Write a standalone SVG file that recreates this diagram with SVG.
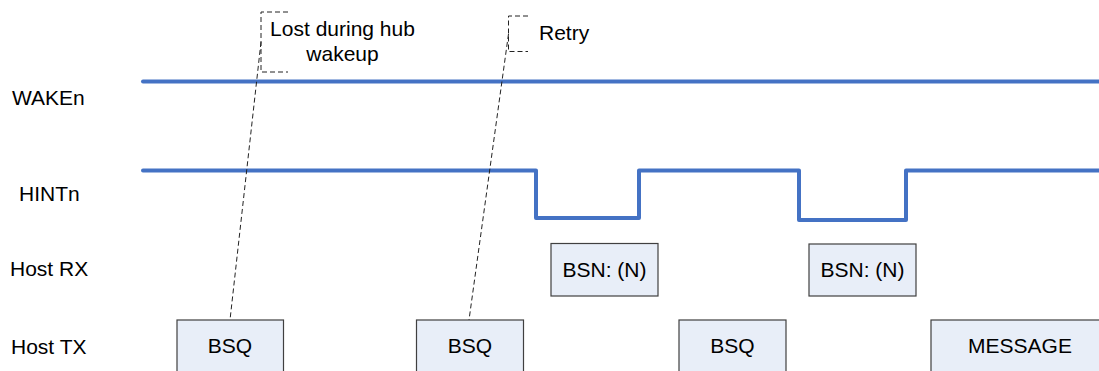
<svg xmlns="http://www.w3.org/2000/svg" width="1099" height="371" viewBox="0 0 1099 371">
<style>
text{font-family:"Liberation Sans",Arial,sans-serif;font-size:21px;fill:#000}
.sig{fill:none;stroke:#4472C4;stroke-width:4;stroke-linejoin:round;stroke-linecap:round}
.box{fill:#E8EEF8;stroke:#404040;stroke-width:1.2}
.dash{fill:none;stroke:#222;stroke-width:1;stroke-dasharray:5,3}
.mid{text-anchor:middle}
</style>
<rect width="1099" height="371" fill="#fff"/>
<g id="labels">
<text x="12" y="105">WAKEn</text>
<text x="19" y="201">HINTn</text>
<text x="10" y="276">Host RX</text>
<text x="11" y="354">Host TX</text>
</g>
<g id="signals">
<path id="waken" class="sig" d="M143,81.5 H1101"/>
<path id="hintn" class="sig" d="M143,170.5 H536 V218 H639 V170.5 H799 V220 H906 V170.5 H1101"/>
</g>
<g id="rx-bsn1"><rect class="box" x="551" y="243.5" width="107" height="52.5"/><text class="mid" x="604.5" y="277">BSN: (N)</text></g>
<g id="rx-bsn2"><rect class="box" x="809" y="244" width="107" height="52"/><text class="mid" x="862.5" y="277">BSN: (N)</text></g>
<g id="tx-bsq1"><rect class="box" x="177" y="320" width="106.5" height="60"/><text class="mid" x="230" y="353">BSQ</text></g>
<g id="tx-bsq2"><rect class="box" x="416.5" y="320" width="107" height="60"/><text class="mid" x="470" y="353">BSQ</text></g>
<g id="tx-bsq3"><rect class="box" x="679" y="320" width="107" height="60"/><text class="mid" x="732.5" y="353">BSQ</text></g>
<g id="tx-message"><rect class="box" x="931" y="320" width="180" height="60"/><text class="mid" x="1020" y="353">MESSAGE</text></g>
<g id="callout-lost">
<path class="dash" d="M288,12 H261 V72 H288"/>
<text class="mid" x="342.5" y="36">Lost during hub</text>
<text class="mid" x="342.5" y="61">wakeup</text>
</g>
<g id="callout-retry">
<path class="dash" d="M528,16 H508.5 V51.5 H528"/>
<text x="539" y="40">Retry</text>
</g>
<g id="connectors">
<path class="dash" d="M261,42 L230,320"/>
<path class="dash" d="M508.5,34 L469,320"/>
</g>
</svg>
